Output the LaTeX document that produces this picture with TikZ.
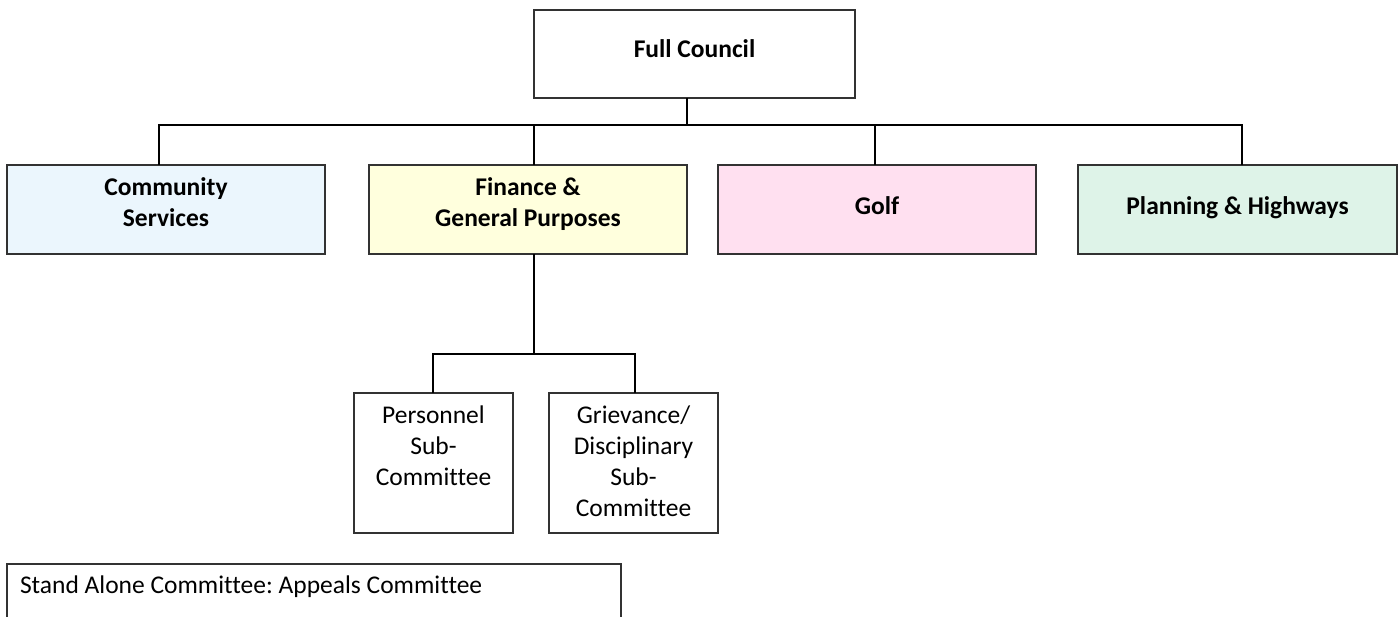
\documentclass[tikz,border=0pt]{standalone}
\usepackage{fontspec}
\setmainfont{Carlito}[Ligatures=NoCommon]
\frenchspacing
\definecolor{cblue}{RGB}{235,246,253}
\definecolor{cyellow}{RGB}{255,255,221}
\definecolor{cpink}{RGB}{255,224,240}
\definecolor{cgreen}{RGB}{222,243,232}
\definecolor{edge}{RGB}{50,50,50}
\newcommand{\btext}[4]{\parbox[c][#2][t]{#1}{\centering\vspace*{#3}#4\par}}
\tikzset{
  box/.style={draw=edge, line width=1.6bp, rectangle, inner sep=0pt, outer sep=0pt, anchor=north west,
    font=\fontsize{25.5bp}{31bp}\selectfont\bfseries},
  subbox/.style={draw=edge, line width=1.6bp, rectangle, inner sep=0pt, outer sep=0pt, anchor=north west,
    font=\fontsize{25.5bp}{31bp}\selectfont},
  conn/.style={draw=black, line width=1.6bp}
}
\begin{document}
\begin{tikzpicture}[x=1bp,y=-1bp]
\useasboundingbox (0,0) rectangle (1400,617);
\fill[white] (0,0) rectangle (1400,617);
\begin{scope}
\clip (0,0) rectangle (1400,617);
% top
\node[box] (fc) at (534,10) {\btext{321bp}{88bp}{30bp}{Full Council}};
% committees
\node[box, fill=cblue] (cs) at (7,165) {\btext{318bp}{89bp}{13bp}{Community\\Services}};
\node[box, fill=cyellow] (fin) at (369,165) {\btext{318bp}{89bp}{13bp}{Finance \&\\General Purposes}};
\node[box, fill=cpink] (golf) at (718,165) {\btext{318bp}{89bp}{32bp}{Golf}};
\node[box, fill=cgreen] (ph) at (1078,165) {\btext{319bp}{89bp}{32bp}{Planning \& Highways}};
% sub-committees
\node[subbox] (pers) at (354,393) {\btext{159bp}{140bp}{13bp}{Personnel\\Sub-\\Committee}};
\node[subbox] (griev) at (549,393) {\btext{169bp}{140bp}{13bp}{Grievance/\\Disciplinary\\Sub-\\Committee}};
% stand alone
\node[subbox] (sa) at (7,564) {\parbox[c][70bp][t]{614bp}{\vspace*{12bp}\hspace*{13bp}Stand Alone Committee: Appeals Committee}};
% connectors
\coordinate (bus) at (687,125);
\draw[conn] (fc.south -| bus) -- (bus);
\draw[conn] (cs.north -| 159,0) -- (159,125) -- (1242,125) -- (ph.north -| 1242,0);
\draw[conn] (fin.north -| 534,0) -- (534,125);
\draw[conn] (golf.north -| 875,0) -- (875,125);
\draw[conn] (fin.south -| 534,0) -- (534,354);
\draw[conn] (pers.north -| 433,0) -- (433,354) -- (635,354) -- (griev.north -| 635,0);
\end{scope}
\end{tikzpicture}
\end{document}
